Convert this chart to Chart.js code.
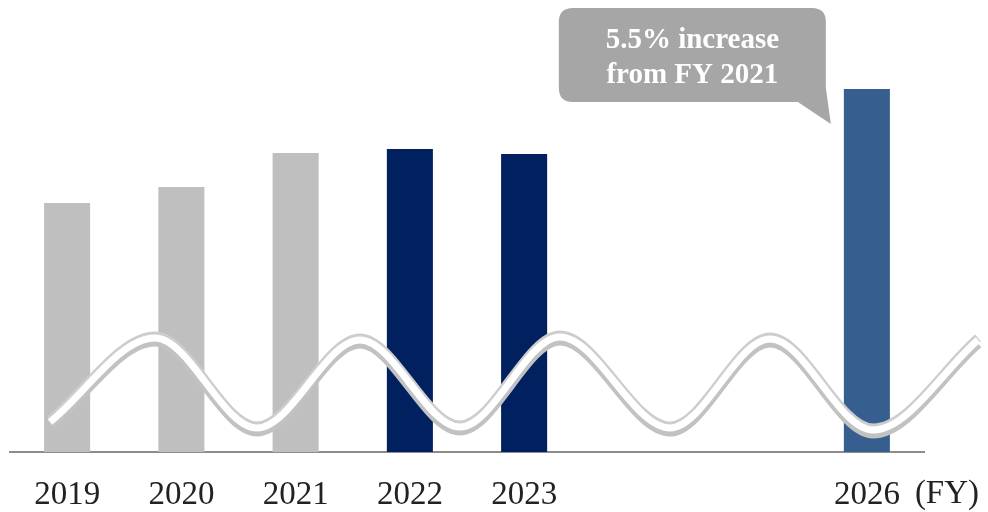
<!DOCTYPE html>
<html>
<head>
<meta charset="utf-8">
<script src="https://cdn.jsdelivr.net/npm/chart.js@4.4.1/dist/chart.umd.min.js"></script>
<style>
  html, body { margin: 0; padding: 0; background: #ffffff; }
  #wrap { width: 988px; height: 512px; position: relative; }
</style>
</head>
<body>
<div id="wrap"><canvas id="c" width="988" height="512"></canvas></div>
<script>
// ---- data ----
const categories = ['2019', '2020', '2021', '2022', '2023', '2024', '2025', '2026'];
const tickLabels = ['2019', '2020', '2021', '2022', '2023', '', '', '2026'];
const values = [249, 265, 299, 303, 298, null, null, 363];
const barColors = ['#bfbfbf', '#bfbfbf', '#bfbfbf', '#002060', '#002060', '#002060', '#002060', '#365f8f'];
// decorative wave (x in category index units, y in value units)
const waveX = [-0.15, 0.769, 1.662, 2.563, 3.438, 4.313, 5.277, 6.153, 7.054, 7.973];
const waveY = [30, 114, 24, 112, 25, 115, 24, 113, 22, 112];
const calloutLines = ['5.5% increase', 'from FY 2021'];
const axisUnit = '(FY)';

const wavePts = waveX.map((x, i) => ({ x: x, y: waveY[i] }));

const waveShift = {
  id: 'waveShift',
  beforeDatasetDraw(chart, args) {
    const ds = chart.data.datasets[args.index];
    if (ds._shadow) {
      chart.ctx.save();
      chart.ctx.translate(0, ds._shadow);
    }
  },
  afterDatasetDraw(chart, args) {
    const ds = chart.data.datasets[args.index];
    if (ds._shadow) chart.ctx.restore();
  }
};

const extras = {
  id: 'extras',
  afterDraw(chart) {
    const ctx = chart.ctx;
    const xs = chart.scales.x;
    // (FY) unit after last tick label
    const lastX = xs.getPixelForValue(7);
    ctx.save();
    ctx.font = '33px "Liberation Serif"';
    ctx.fillStyle = '#222222';
    ctx.textAlign = 'left';
    ctx.textBaseline = 'alphabetic';
    ctx.fillText(axisUnit, lastX + 48, 503);
    ctx.restore();

    // callout anchored to the 2026 bar
    const bar = chart.getDatasetMeta(0).data[7];
    const bx = bar.x - bar.width / 2;
    const by = bar.y;
    const right = bx - 18, left = right - 267, top = by - 81, bottom = by + 13, r = 14;
    ctx.save();
    ctx.fillStyle = '#a6a6a6';
    ctx.beginPath();
    ctx.moveTo(left + r, top);
    ctx.lineTo(right - r, top);
    ctx.quadraticCurveTo(right, top, right, top + r);
    ctx.lineTo(right, bottom - 14);
    ctx.lineTo(right + 5, bottom + 22);
    ctx.lineTo(right - 28, bottom);
    ctx.lineTo(left + r, bottom);
    ctx.quadraticCurveTo(left, bottom, left, bottom - r);
    ctx.lineTo(left, top + r);
    ctx.quadraticCurveTo(left, top, left + r, top);
    ctx.closePath();
    ctx.fill();
    ctx.fillStyle = '#ffffff';
    ctx.font = 'bold 29px "Liberation Serif"';
    ctx.textAlign = 'center';
    ctx.textBaseline = 'alphabetic';
    const cx = (left + right) / 2;
    ctx.fillText(calloutLines[0], cx, top + 40);
    ctx.fillText(calloutLines[1], cx, top + 75);
    ctx.restore();
  }
};

const waveLine = (color, width, shift, order) => ({
  type: 'line',
  data: wavePts,
  _shadow: shift,
  borderColor: color,
  borderWidth: width,
  pointRadius: 0,
  fill: false,
  cubicInterpolationMode: 'monotone',
  borderCapStyle: 'butt',
  clip: false,
  order: order,
  xAxisID: 'x2',
  yAxisID: 'y'
});

new Chart(document.getElementById('c'), {
  data: {
    labels: categories,
    datasets: [
      {
        type: 'bar',
        data: values,
        backgroundColor: barColors,
        grouped: false,
        barPercentage: 0.403,
        categoryPercentage: 1.0,
        order: 4,
        xAxisID: 'x',
        yAxisID: 'y'
      },
      waveLine('#c2c2c2', 10, 3.5, 3),
      waveLine('#cdcdcd', 9, -2, 2),
      waveLine('#ffffff', 7, 0, 1)
    ]
  },
  options: {
    responsive: false,
    animation: false,
    devicePixelRatio: 1,
    layout: { padding: { left: 10, right: 64, top: 0, bottom: 0 } },
    plugins: { legend: { display: false }, tooltip: { enabled: false } },
    scales: {
      x: {
        type: 'category',
        position: 'bottom',
        offset: true,
        grid: { display: false, drawTicks: false, offset: true },
        border: { display: true, color: '#8c8c8c', width: 2 },
        ticks: {
          autoSkip: false,
          maxRotation: 0,
          padding: 24,
          color: '#222222',
          font: { family: 'Liberation Serif', size: 33 },
          callback: (v, i) => tickLabels[i]
        },
        afterFit: (s) => { s.height = 60; }
      },
      x2: {
        type: 'linear',
        display: false,
        min: -0.5,
        max: 7.5
      },
      y: {
        display: false,
        min: 0,
        max: 452
      }
    }
  },
  plugins: [waveShift, extras]
});
</script>
</body>
</html>
